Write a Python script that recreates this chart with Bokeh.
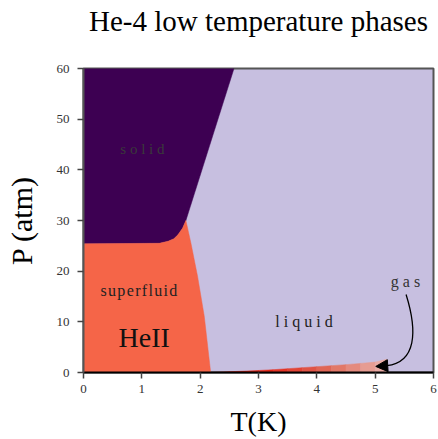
from bokeh.plotting import figure
from bokeh.embed import file_html
from bokeh.resources import INLINE
from bokeh.core.properties import value
from bokeh.models import Range1d, FixedTicker, Arrow, NormalHead, Title

# ---- data ----
title_text = "He-4 low temperature phases"
x_label = "T(K)"
y_label = "P (atm)"
x_ticks = [0, 1, 2, 3, 4, 5, 6]
y_ticks = [0, 10, 20, 30, 40, 50, 60]

# melting curve (solid / fluid boundary)
melt_T = [0.0, 1.30, 1.45, 1.55, 1.62, 1.70, 1.755, 2.58]
melt_P = [25.4, 25.5, 25.9, 26.4, 27.2, 28.5, 30.0, 60.0]

# lambda line (superfluid / normal liquid)
lam_T = [1.755, 1.84, 1.955, 2.07, 2.18]
lam_P = [30.0, 25.6, 19.0, 11.1, 0.0]

# vapour-pressure curve (gas / liquid)
vap_T = [2.18, 2.5, 2.8, 3.0, 3.25, 3.5, 3.75, 4.0, 4.25, 4.5, 4.75, 5.0, 5.2]
vap_P = [0.0, 0.15, 0.28, 0.4, 0.55, 0.75, 0.95, 1.15, 1.35, 1.55, 1.8, 2.05, 2.6]

# labels
H = "\u200a"
lab_text = ["s o l i d", H.join("superfluid"), "HeII", "l i q u i d", "g a s"]
lab_T = [1.01, 0.95, 1.04, 3.78, 5.52]
lab_P = [44.1, 16.1, 6.9, 10.1, 18.0]

# curved arrow from "gas" label to the gas region
arrow_T = [5.53, 5.73, 5.70, 5.20]
arrow_P = [15.4, 8.0, 2.0, 1.35]
head_T = [5.22, 5.01]
head_P = [1.35, 1.2]

# ---- colours ----
c_liquid = "#c7bfe0"
c_solid = "#3d0052"
c_super = "#f56548"
gas_colors = ["#c41606", "#d01a0a", "#dc200e", "#e42818", "#e43426", "#e24436",
              "#e05446", "#e06656", "#e27868", "#e48a7e", "#e69c92", "#e9aaa4"]

p = figure(width=438, height=439, output_backend="svg", toolbar_location=None,
           x_range=Range1d(0, 6), y_range=Range1d(0, 60),
           min_border_left=83, min_border_right=5, min_border_top=68, min_border_bottom=66,
           background_fill_color=c_liquid, border_fill_color="white")

# spacer between the frame and the title
p.add_layout(Title(text=" ", text_font_size="2px", standoff=28), "above")

p.title.text = title_text
p.title.align = "center"
p.title.vertical_align = "bottom"
p.title.text_font = "Liberation Serif"
p.title.text_font_size = "29px"
p.title.text_font_style = "normal"
p.title.text_color = "black"
p.title.standoff = 0

# solid region
solid_x = [0.0] + melt_T + [0.0]
solid_y = [60.0] + melt_P + [60.0]
p.patch(solid_x, solid_y, fill_color=c_solid, line_color=c_solid, line_width=0.5)

# superfluid region
sf_x = [0.0] + melt_T[:-1] + lam_T[1:] + [0.0]
sf_y = [0.0] + melt_P[:-1] + lam_P[1:] + [0.0]
p.patch(sf_x, sf_y, fill_color=c_super, line_color=c_super, line_width=0.5)

# gas region, drawn as strips between consecutive curve points
xs, ys = [], []
for i in range(len(vap_T) - 1):
    xs.append([vap_T[i], vap_T[i + 1], vap_T[i + 1], vap_T[i]])
    ys.append([0.0, 0.0, vap_P[i + 1], vap_P[i]])
p.patches(xs, ys, fill_color=gas_colors, line_color=gas_colors, line_width=0.5)

# labels
sizes = ["15px", "16px", "28px", "16px", "16px"]
colors = ["#3a3a3a", "#222222", "#111111", "#222222", "#333333"]
p.text(x=lab_T, y=lab_P, text=lab_text, text_font=value("Liberation Serif"),
       text_font_size=sizes, text_color=colors, text_align="center", text_baseline="middle")

# arrow
p.bezier(x0=[arrow_T[0]], y0=[arrow_P[0]], cx0=[arrow_T[1]], cy0=[arrow_P[1]],
         cx1=[arrow_T[2]], cy1=[arrow_P[2]], x1=[arrow_T[3]], y1=[arrow_P[3]],
         line_color="black", line_width=1.3)
p.add_layout(Arrow(x_start=head_T[0], y_start=head_P[0], x_end=head_T[1], y_end=head_P[1],
                   line_color="black", line_width=1.3,
                   end=NormalHead(size=12, fill_color="black", line_color="black")))

# axes
p.grid.visible = False
p.outline_line_color = "#555555"
p.outline_line_width = 2
p.xaxis.ticker = FixedTicker(ticks=x_ticks)
p.yaxis.ticker = FixedTicker(ticks=y_ticks)
for ax in (p.xaxis, p.yaxis):
    ax.minor_tick_line_color = None
    ax.major_tick_in = 0
    ax.major_tick_out = 6
    ax.major_tick_line_color = "#444444"
    ax.major_tick_line_width = 1.5
    ax.axis_line_width = 2
    ax.major_label_text_font = "Liberation Serif"
    ax.major_label_text_font_size = "13px"
    ax.major_label_text_color = "#333333"
    ax.axis_label_text_font = "Liberation Serif"
    ax.axis_label_text_font_style = "normal"
    ax.axis_label_text_color = "black"
p.xaxis.axis_label_text_font_size = "28px"
p.yaxis.axis_label_text_font_size = "30px"
p.xaxis.axis_line_color = "black"
p.yaxis.axis_line_color = "#555555"
p.xaxis.axis_label = x_label
p.yaxis.axis_label = y_label
p.xaxis.major_label_standoff = 6
p.yaxis.major_label_standoff = 8
p.xaxis.axis_label_standoff = 10
p.yaxis.axis_label_standoff = 16

open("out.html", "w").write(file_html(p, INLINE))
